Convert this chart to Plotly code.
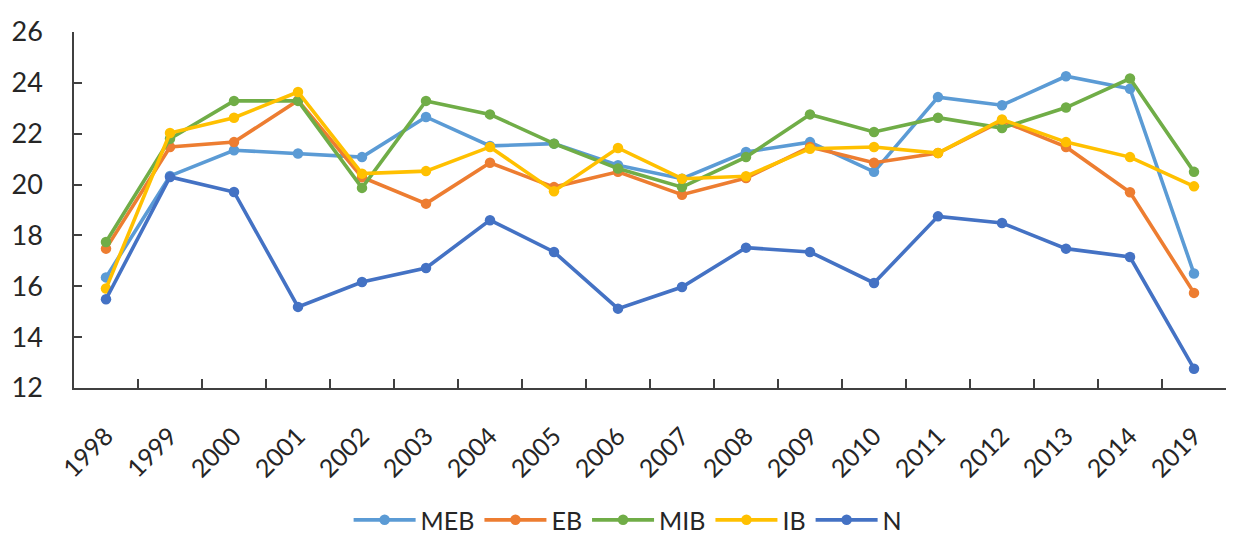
import plotly.graph_objects as go

years = ["1998", "1999", "2000", "2001", "2002", "2003", "2004", "2005", "2006",
         "2007", "2008", "2009", "2010", "2011", "2012", "2013", "2014", "2019"]

meb = [16.35, 20.34, 21.35, 21.22, 21.08, 22.66, 21.52, 21.61, 20.76,
       20.23, 21.28, 21.67, 20.50, 23.44, 23.12, 24.26, 23.77, 16.50]
eb = [17.48, 21.48, 21.67, 23.31, 20.29, 19.25, 20.86, 19.90, 20.50,
      19.60, 20.26, 21.48, 20.86, 21.24, 22.50, 21.48, 19.70, 15.74]
mib = [17.74, 21.80, 23.29, 23.29, 19.87, 23.29, 22.76, 21.61, 20.63,
       19.90, 21.08, 22.76, 22.07, 22.63, 22.22, 23.03, 24.17, 20.50]
ib = [15.91, 22.03, 22.63, 23.64, 20.43, 20.53, 21.48, 19.74, 21.44,
      20.23, 20.33, 21.41, 21.48, 21.24, 22.56, 21.67, 21.08, 19.93]
n = [15.49, 20.30, 19.71, 15.19, 16.17, 16.72, 18.60, 17.35, 15.12,
     15.97, 17.52, 17.35, 16.13, 18.75, 18.49, 17.48, 17.15, 12.76]

series = [
    ("MEB", meb, "#5B9BD5"),
    ("EB", eb, "#ED7D31"),
    ("MIB", mib, "#70AD47"),
    ("IB", ib, "#FFC000"),
    ("N", n, "#4472C4"),
]

y_ticks = [12, 14, 16, 18, 20, 22, 24, 26]

fig = go.Figure()
for name, vals, color in series:
    fig.add_trace(go.Scatter(
        x=years, y=vals, name=name, mode="lines+markers",
        line=dict(color=color, width=3.6),
        marker=dict(color=color, size=10.5),
    ))

font_family = "Lato, 'Open Sans', sans-serif"

fig.update_layout(
    width=1251, height=540,
    margin=dict(l=74, r=25, t=32, b=152, autoexpand=False),
    paper_bgcolor="white", plot_bgcolor="white",
    font=dict(family=font_family, color="#262626"),
    showlegend=True,
    legend=dict(
        orientation="h", x=0.481, xanchor="center", y=-0.371, yanchor="middle",
        font=dict(size=25, color="#262626"), itemwidth=62,
        tracegroupgap=0,
    ),
    xaxis=dict(
        type="category", tickangle=-45, automargin=False,
        showline=True, linecolor="#404040", linewidth=1.5,
        ticks="inside", ticklen=9, tickcolor="#404040", tickwidth=1.5,
        tickson="boundaries", showgrid=False,
        tickfont=dict(size=25, color="#262626"),
        ticklabelstandoff=22,
        range=[-0.5, len(years) - 0.5],
    ),
    yaxis=dict(
        range=[12, 26], tickvals=y_ticks, automargin=False,
        showline=True, linecolor="#404040", linewidth=1.5,
        ticks="inside", ticklen=8, tickcolor="#404040", tickwidth=1.5,
        showgrid=False, zeroline=False,
        tickfont=dict(size=27, color="#262626"),
        ticklabelstandoff=24,
    ),
)

fig.write_html("out.html")
